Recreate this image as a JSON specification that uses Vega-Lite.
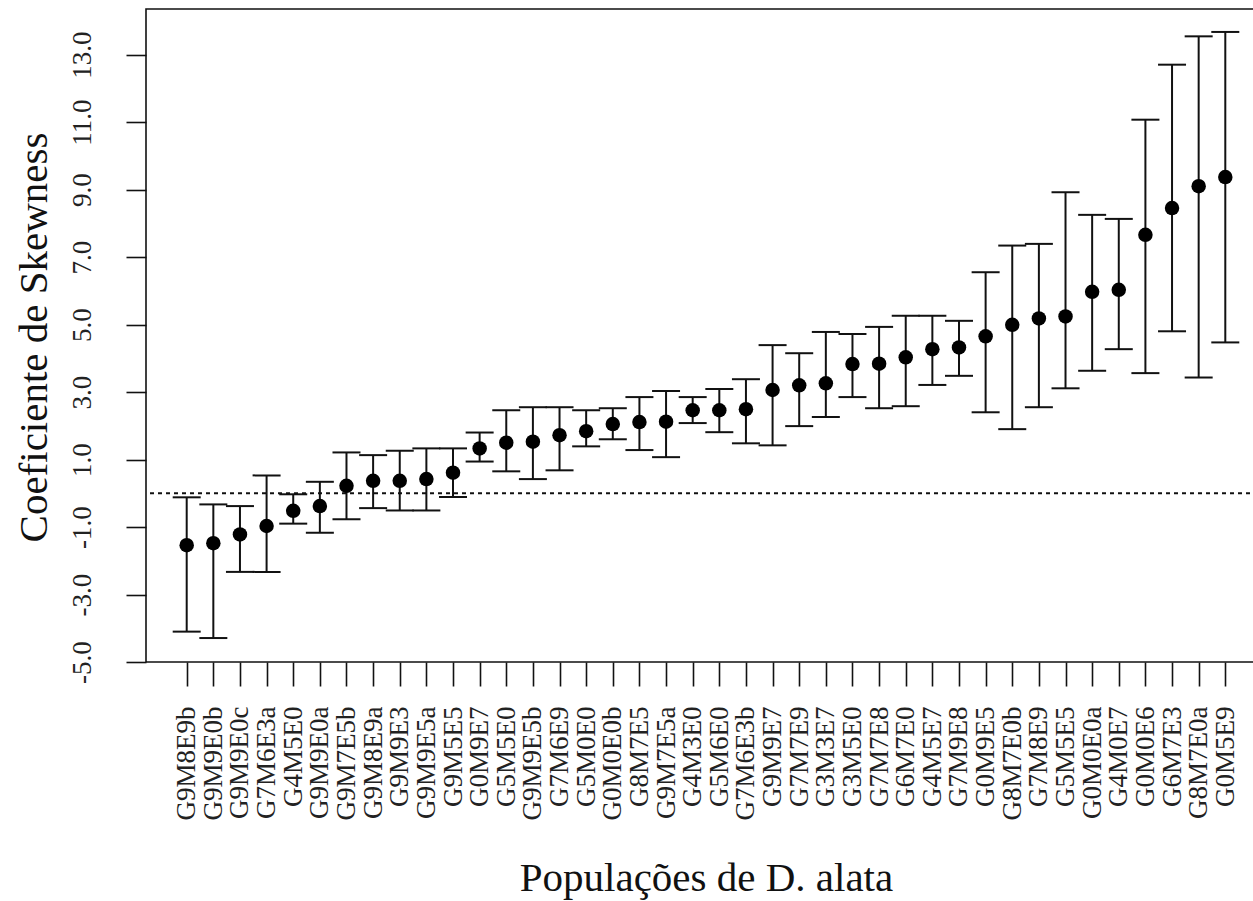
{
  "$schema": "https://vega.github.io/schema/vega-lite/v6.json",
  "width": 1112,
  "height": 653,
  "autosize": {"type": "none"},
  "padding": {"left": 146, "top": 9, "right": 0, "bottom": 239},
  "background": "white",
  "config": {
    "view": {"stroke": "#111", "strokeWidth": 1.6},
    "font": "Liberation Serif"
  },
  "data": {
    "values": [
      {"pop": "G9M8E9b", "m": -1.54, "lo": -4.10, "hi": -0.12},
      {"pop": "G9M9E0b", "m": -1.48, "lo": -4.29, "hi": -0.33},
      {"pop": "G9M9E0c", "m": -1.22, "lo": -2.33, "hi": -0.38},
      {"pop": "G7M6E3a", "m": -0.97, "lo": -2.33, "hi": 0.53},
      {"pop": "G4M5E0", "m": -0.52, "lo": -0.90, "hi": -0.03},
      {"pop": "G9M9E0a", "m": -0.38, "lo": -1.17, "hi": 0.34},
      {"pop": "G9M7E5b", "m": 0.22, "lo": -0.77, "hi": 1.21},
      {"pop": "G9M8E9a", "m": 0.37, "lo": -0.44, "hi": 1.13},
      {"pop": "G9M9E3", "m": 0.37, "lo": -0.51, "hi": 1.26},
      {"pop": "G9M9E5a", "m": 0.42, "lo": -0.51, "hi": 1.33},
      {"pop": "G9M5E5", "m": 0.61, "lo": -0.11, "hi": 1.33},
      {"pop": "G0M9E7", "m": 1.33, "lo": 0.94, "hi": 1.80},
      {"pop": "G5M5E0", "m": 1.50, "lo": 0.65, "hi": 2.46},
      {"pop": "G9M9E5b", "m": 1.53, "lo": 0.42, "hi": 2.55},
      {"pop": "G7M6E9", "m": 1.72, "lo": 0.68, "hi": 2.55},
      {"pop": "G5M0E0", "m": 1.84, "lo": 1.39, "hi": 2.46},
      {"pop": "G0M0E0b", "m": 2.05, "lo": 1.60, "hi": 2.52},
      {"pop": "G8M7E5", "m": 2.11, "lo": 1.28, "hi": 2.85},
      {"pop": "G9M7E5a", "m": 2.12, "lo": 1.07, "hi": 3.03},
      {"pop": "G4M3E0", "m": 2.46, "lo": 2.08, "hi": 2.85},
      {"pop": "G5M6E0", "m": 2.46, "lo": 1.81, "hi": 3.09},
      {"pop": "G7M6E3b", "m": 2.49, "lo": 1.48, "hi": 3.38},
      {"pop": "G9M9E7", "m": 3.06, "lo": 1.42, "hi": 4.39},
      {"pop": "G7M7E9", "m": 3.20, "lo": 1.99, "hi": 4.15},
      {"pop": "G3M3E7", "m": 3.26, "lo": 2.26, "hi": 4.78},
      {"pop": "G3M5E0", "m": 3.83, "lo": 2.85, "hi": 4.72},
      {"pop": "G7M7E8", "m": 3.84, "lo": 2.52, "hi": 4.93},
      {"pop": "G6M7E0", "m": 4.03, "lo": 2.58, "hi": 5.26},
      {"pop": "G4M5E7", "m": 4.27, "lo": 3.21, "hi": 5.26},
      {"pop": "G7M9E8", "m": 4.32, "lo": 3.48, "hi": 5.11},
      {"pop": "G0M9E5", "m": 4.65, "lo": 2.40, "hi": 6.55},
      {"pop": "G8M7E0b", "m": 4.99, "lo": 1.90, "hi": 7.34},
      {"pop": "G7M8E9", "m": 5.18, "lo": 2.55, "hi": 7.39},
      {"pop": "G5M5E5", "m": 5.24, "lo": 3.11, "hi": 8.92},
      {"pop": "G0M0E0a", "m": 5.97, "lo": 3.63, "hi": 8.25},
      {"pop": "G4M0E7", "m": 6.03, "lo": 4.27, "hi": 8.13},
      {"pop": "G0M0E6", "m": 7.66, "lo": 3.56, "hi": 11.07},
      {"pop": "G6M7E3", "m": 8.45, "lo": 4.80, "hi": 12.70},
      {"pop": "G8M7E0a", "m": 9.10, "lo": 3.43, "hi": 13.54},
      {"pop": "G0M5E9", "m": 9.37, "lo": 4.47, "hi": 13.67}
    ]
  },
  "layer": [
    {
      "data": {"values": [{"ref": 0}]},
      "mark": {"type": "rule", "color": "#111", "strokeWidth": 1.8, "strokeDash": [4, 4]},
      "encoding": {
        "y": {"field": "ref", "type": "quantitative", "scale": {"domain": [-5, 14.35], "nice": false, "zero": false}}
      }
    },
    {
      "encoding": {
        "x": {
          "field": "pop",
          "type": "nominal",
          "sort": null,
          "scale": {"type": "point", "range": [40.7, 1079.3], "padding": 0},
          "axis": {
            "title": "Populações de D. alata",
            "labelAngle": -90,
            "labelAlign": "right",
            "labelBaseline": "middle",
            "labelFont": "Liberation Serif",
            "labelFontSize": 27,
            "labelColor": "#222",
            "labelPadding": 20,
            "labelOverlap": false,
            "labelLimit": 0,
            "tickSize": 24,
            "tickColor": "#111",
            "tickWidth": 1.6,
            "domain": false,
            "grid": false,
            "titleFont": "Liberation Serif",
            "titleFontSize": 41,
            "titleFontWeight": "normal",
            "titleColor": "#111",
            "titleX": 560,
            "titleY": 228,
            "titleAlign": "center",
            "titleBaseline": "alphabetic"
          }
        }
      },
      "layer": [
        {
          "mark": {"type": "rule", "color": "#111", "strokeWidth": 2},
          "encoding": {
            "y": {
              "field": "lo",
              "type": "quantitative",
              "scale": {"domain": [-5, 14.35], "nice": false, "zero": false},
              "axis": {
                "title": "Coeficiente de Skewness",
                "values": [-5, -4.5, -4, -3.5, -3, -2.5, -2, -1.5, -1, -0.5, 0, 0.5, 1, 1.5, 2, 2.5, 3, 3.5, 4, 4.5, 5, 5.5, 6, 6.5, 7, 7.5, 8, 8.5, 9, 9.5, 10, 10.5, 11, 11.5, 12, 12.5, 13, 13.5, 14],
                "labelExpr": "(datum.value + 5) % 2 == 0 ? replace(format(datum.value, '.1f'), '\u2212', '-') : ''",
                "labelAngle": -90,
                "labelAlign": "center",
                "labelBaseline": "alphabetic",
                "labelPadding": 36,
                "labelFont": "Liberation Serif",
                "labelFontSize": 27,
                "labelColor": "#222",
                "labelOverlap": false,
                "labelFlush": false,
                "labelBound": false,
                "tickSize": 20,
                "tickColor": "#111",
                "tickWidth": 1.6,
                "domain": false,
                "grid": false,
                "titleFont": "Liberation Serif",
                "titleFontSize": 41,
                "titleFontWeight": "normal",
                "titleColor": "#111",
                "titleAngle": -90,
                "titleX": -100,
                "titleY": 328,
                "titleAlign": "center",
                "titleBaseline": "alphabetic"
              }
            },
            "y2": {"field": "hi"}
          }
        },
        {
          "mark": {"type": "tick", "orient": "horizontal", "size": 28, "thickness": 2, "color": "#111", "opacity": 1},
          "encoding": {
            "y": {"field": "hi", "type": "quantitative", "scale": {"domain": [-5, 14.35], "nice": false, "zero": false}}
          }
        },
        {
          "mark": {"type": "tick", "orient": "horizontal", "size": 28, "thickness": 2, "color": "#111", "opacity": 1},
          "encoding": {
            "y": {"field": "lo", "type": "quantitative", "scale": {"domain": [-5, 14.35], "nice": false, "zero": false}}
          }
        },
        {
          "mark": {"type": "circle", "size": 210, "color": "#000", "opacity": 1},
          "encoding": {
            "y": {"field": "m", "type": "quantitative", "scale": {"domain": [-5, 14.35], "nice": false, "zero": false}}
          }
        }
      ]
    }
  ]
}
